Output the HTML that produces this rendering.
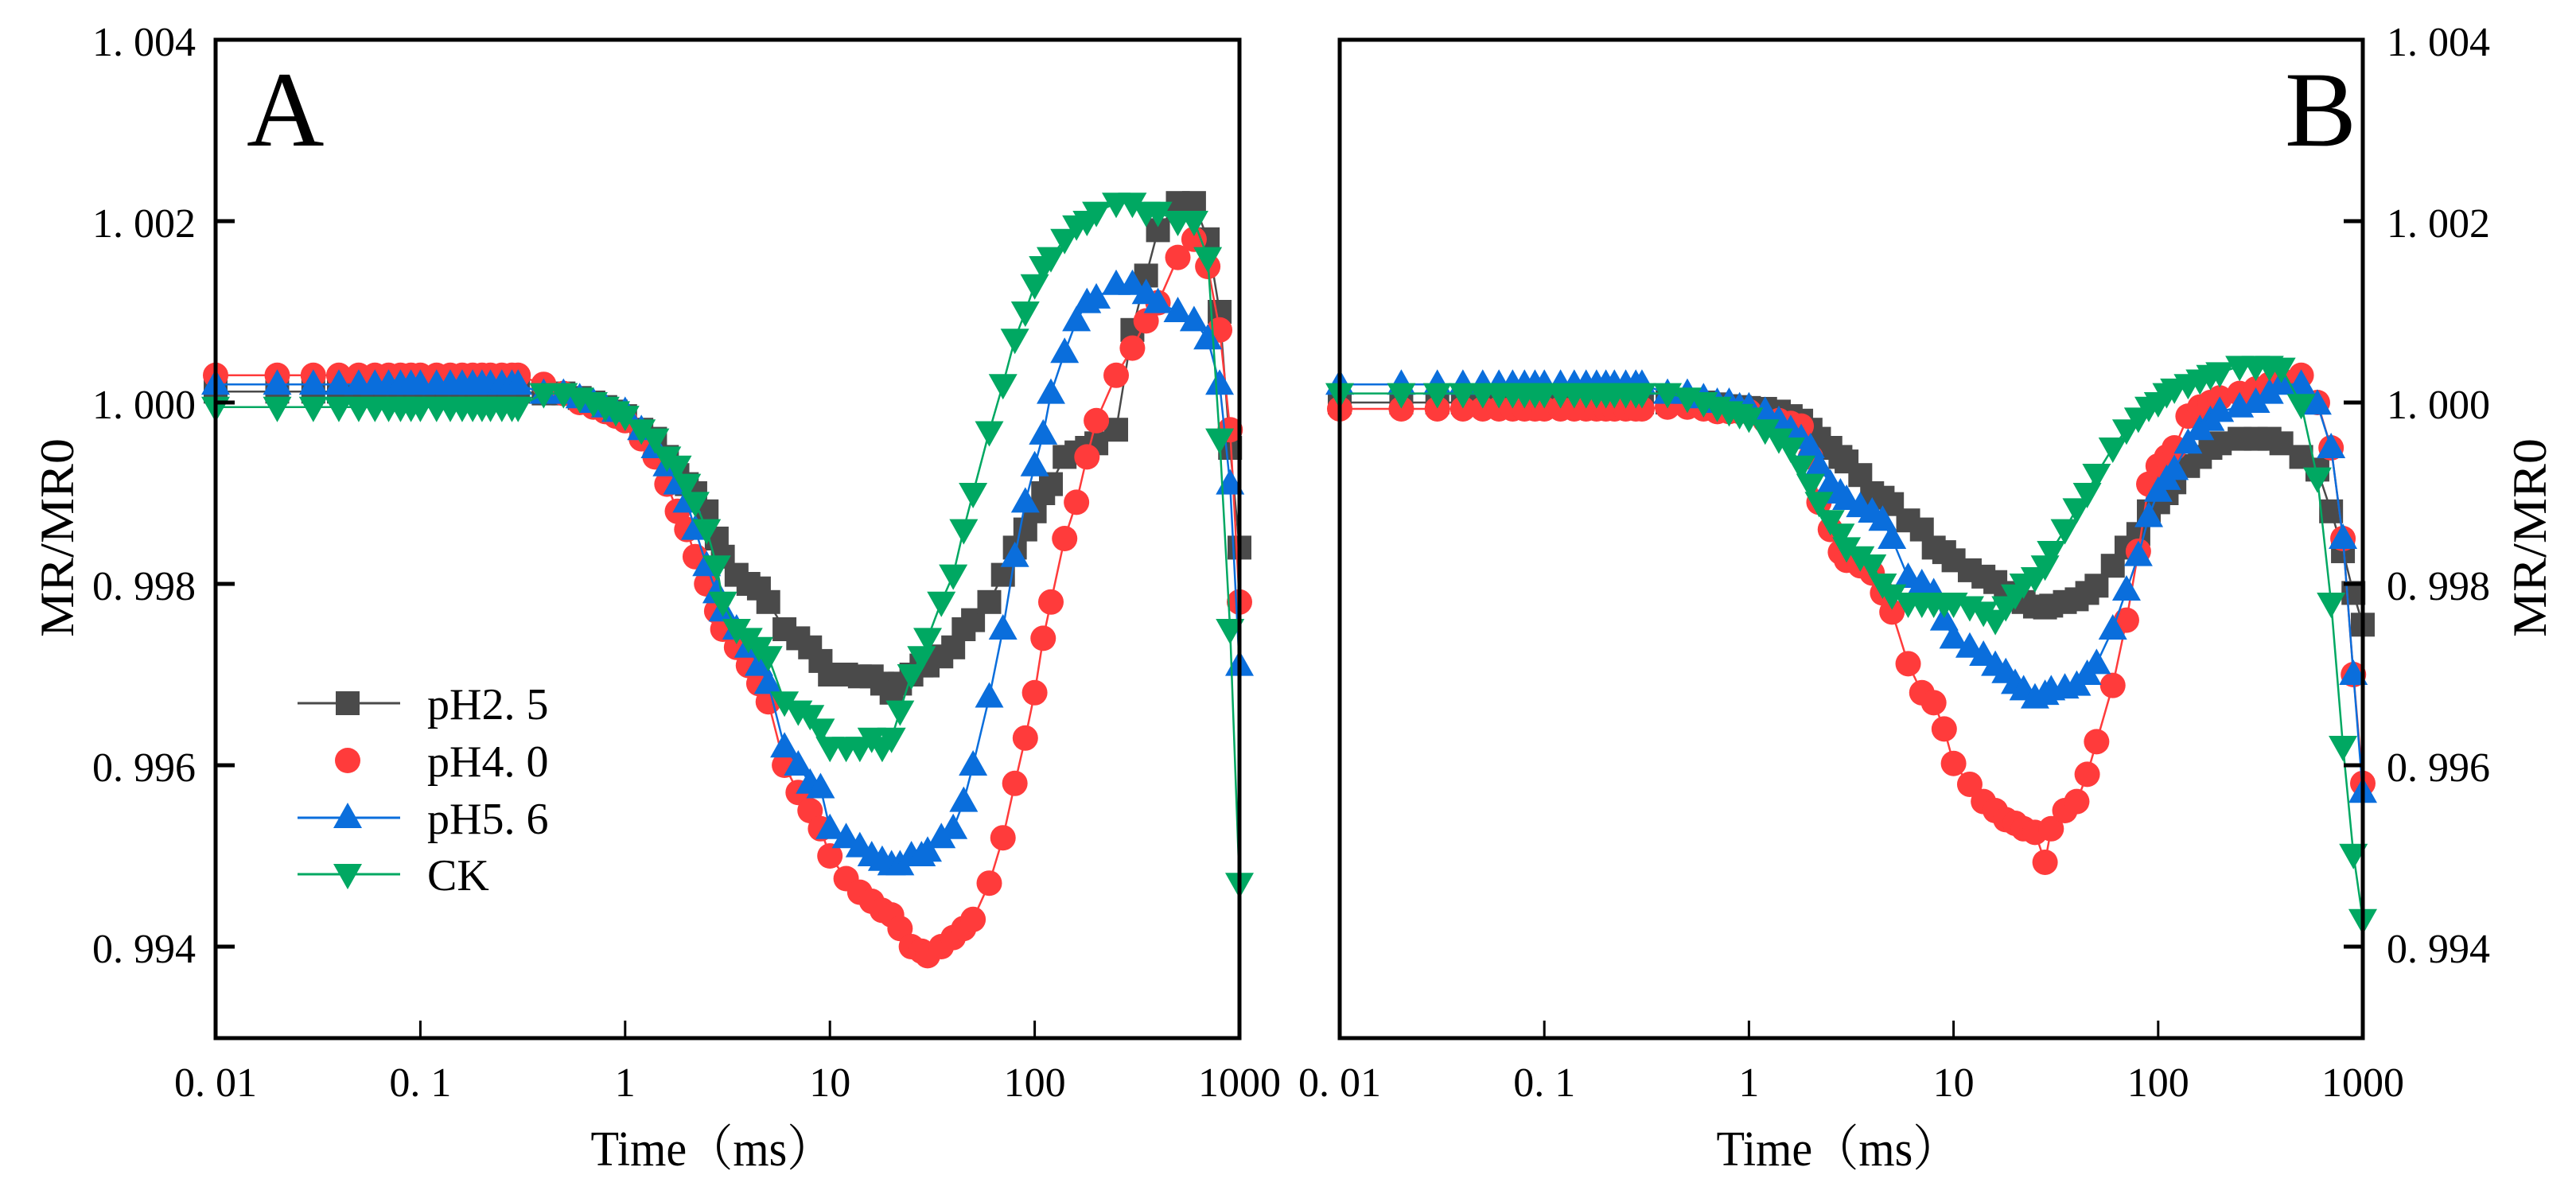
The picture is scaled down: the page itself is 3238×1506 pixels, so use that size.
<!DOCTYPE html>
<html><head><meta charset="utf-8"><style>
html,body{margin:0;padding:0;background:#fff;}
svg{display:block;}
text{font-family:"Liberation Serif","Noto Serif CJK SC",serif;fill:#000;}
</style></head>
<body>
<svg id="chart" width="3238" height="1506" viewBox="0 0 3238 1506" xmlns="http://www.w3.org/2000/svg">
<rect x="0" y="0" width="3238" height="1506" fill="#fff"/>
<g id="panelA"></g>
<g id="panelB"></g>
</svg>
<script>
const times = [0.01,0.02,0.03,0.04,0.05,0.06,0.07,0.08,0.09,0.1,0.12,0.14,0.16,0.18,0.2,0.22,0.25,0.28,0.3,0.4,0.5,0.6,0.7,0.8,0.9,1,1.2,1.4,1.6,1.8,2,2.2,2.5,2.8,3,3.5,4,4.5,5,6,7,8,9,10,12,14,16,18,20,22,25,28,30,35,40,45,50,60,70,80,90,100,110,120,140,160,180,200,250,300,350,400,500,600,700,800,900,1000];
const seriesNames = ["pH2. 5","pH4. 0","pH5. 6","CK"];
const xTickValues = [0.01,0.1,1,10,100,1000];
const xTickLabels = ["0. 01","0. 1","1","10","100","1000"];
const yTickValues = [1.004,1.002,1.000,0.998,0.996,0.994];
const yTickLabels = ["1. 004","1. 002","1. 000","0. 998","0. 996","0. 994"];

const A_pH25 = [1.00012,1.00012,1.00012,1.00012,1.00012,1.00012,1.00012,1.00012,1.00012,1.00012,1.00012,1.00012,1.00012,1.00012,1.00012,1.00012,1.00012,1.00012,1.00012,1.0001,1.0001,1.00005,1.0,0.99995,0.9999,0.99985,0.9997,0.9996,0.9994,0.9992,0.9991,0.999,0.9988,0.9985,0.9983,0.9981,0.998,0.99795,0.9978,0.9975,0.9974,0.9973,0.99715,0.997,0.997,0.99698,0.99698,0.9969,0.9968,0.9969,0.997,0.9971,0.9971,0.9972,0.9973,0.9975,0.9976,0.9978,0.9981,0.9984,0.9986,0.9988,0.999,0.9991,0.9994,0.99945,0.9995,0.99955,0.9997,1.0008,1.0014,1.0019,1.0022,1.0022,1.0018,1.001,0.9995,0.9984];
const A_pH40 = [1.0003,1.0003,1.0003,1.0003,1.0003,1.0003,1.0003,1.0003,1.0003,1.0003,1.0003,1.0003,1.0003,1.0003,1.0003,1.0003,1.0003,1.0003,1.0003,1.0002,1.0001,1.0,0.99995,0.9999,0.99985,0.9998,0.9996,0.9994,0.9991,0.9988,0.9986,0.9983,0.998,0.9977,0.9975,0.9973,0.9971,0.9969,0.9967,0.996,0.9957,0.9955,0.9953,0.995,0.99475,0.9946,0.9945,0.9944,0.99435,0.9942,0.994,0.99395,0.9939,0.994,0.9941,0.9942,0.9943,0.9947,0.9952,0.9958,0.9963,0.9968,0.9974,0.9978,0.9985,0.9989,0.9994,0.9998,1.0003,1.0006,1.0009,1.0011,1.0016,1.0018,1.0015,1.0008,0.9997,0.9978];
const A_pH56 = [1.0002,1.0002,1.0002,1.0002,1.0002,1.0002,1.0002,1.0002,1.0002,1.0002,1.0002,1.0002,1.0002,1.0002,1.0002,1.0002,1.0002,1.0002,1.0002,1.0001,1.0001,1.00005,1.0,0.99995,0.9999,0.9999,0.9997,0.9995,0.9993,0.9991,0.9989,0.9986,0.9982,0.9979,0.9977,0.9975,0.9973,0.9971,0.9969,0.9962,0.996,0.9958,0.99575,0.9953,0.9952,0.9951,0.995,0.99495,0.9949,0.9949,0.995,0.995,0.99505,0.9952,0.9953,0.9956,0.996,0.99675,0.9975,0.9983,0.9989,0.9993,0.99965,1.0001,1.00055,1.0009,1.0011,1.00115,1.0013,1.0013,1.0012,1.0011,1.001,1.0009,1.0007,1.0002,0.9991,0.9971];
const A_CK = [0.99995,0.99995,0.99995,0.99995,0.99995,0.99995,0.99995,0.99995,0.99995,0.99995,0.99995,0.99995,0.99995,0.99995,0.99995,0.99995,0.99995,0.99995,0.99995,1.0001,1.0001,1.00005,1.0,0.99995,0.9999,0.99985,0.9997,0.9996,0.9994,0.9993,0.9991,0.9989,0.9986,0.9982,0.9978,0.9975,0.9974,0.9973,0.9972,0.9967,0.9966,0.99655,0.9964,0.9962,0.9962,0.9962,0.9963,0.9962,0.9963,0.9966,0.997,0.9972,0.9974,0.9978,0.9981,0.9986,0.999,0.99968,1.0002,1.0007,1.001,1.0013,1.0015,1.0016,1.0018,1.00195,1.002,1.0021,1.0022,1.0022,1.0021,1.0021,1.002,1.002,1.0016,0.9996,0.9975,0.9947];

const B_pH25 = [1.0,1.0,1.0,1.0,1.0,1.0,1.0,1.0,1.0,1.0,1.0,1.0,1.0,1.0,1.0,1.0,1.0,1.0,1.0,1.0,1.0,1.0,0.99998,0.99996,0.99995,0.99994,0.99993,0.9999,0.99985,0.9998,0.9997,0.9996,0.9995,0.9994,0.99935,0.9992,0.999,0.99895,0.99888,0.9987,0.9986,0.9984,0.99835,0.99826,0.99815,0.99808,0.99802,0.9979,0.99785,0.9978,0.99775,0.99774,0.99776,0.9978,0.99783,0.9979,0.99798,0.9982,0.9984,0.99855,0.9988,0.9989,0.999,0.99912,0.9993,0.9994,0.9995,0.99955,0.9996,0.9996,0.9996,0.99955,0.9994,0.99926,0.9988,0.99836,0.9979,0.99755];
const B_pH40 = [0.99993,0.99993,0.99993,0.99993,0.99993,0.99993,0.99993,0.99993,0.99993,0.99993,0.99993,0.99993,0.99993,0.99993,0.99993,0.99993,0.99993,0.99993,0.99993,0.99995,0.99995,0.99993,0.9999,0.9999,0.9999,0.9999,0.9998,0.9998,0.99977,0.99974,0.9994,0.9989,0.9986,0.99835,0.99826,0.9982,0.99812,0.9979,0.99769,0.99712,0.9968,0.99669,0.9964,0.99602,0.99579,0.9956,0.9955,0.9954,0.99536,0.9953,0.99526,0.99493,0.9953,0.9955,0.9956,0.9959,0.99626,0.99688,0.9976,0.99836,0.9991,0.9993,0.9994,0.9995,0.99985,0.99995,1.0,1.00005,1.0001,1.00015,1.0002,1.00025,1.0003,1.0,0.9995,0.9985,0.997,0.9958];
const B_pH56 = [1.0002,1.0002,1.0002,1.0002,1.0002,1.0002,1.0002,1.0002,1.0002,1.0002,1.0002,1.0002,1.0002,1.0002,1.0002,1.0002,1.0002,1.0002,1.0002,1.0001,1.0001,1.00005,1.0,1.0,0.99995,0.99995,0.9999,0.9998,0.9997,0.9996,0.9995,0.9993,0.9991,0.999,0.99893,0.99885,0.99879,0.9987,0.9985,0.99807,0.998,0.9979,0.9976,0.9974,0.9973,0.99721,0.9971,0.99702,0.9969,0.99683,0.99674,0.99678,0.99683,0.99685,0.99688,0.997,0.99712,0.9975,0.99793,0.99831,0.99874,0.99902,0.99915,0.99926,0.99955,0.9997,0.9998,0.9999,0.99995,1.0,1.0001,1.0002,1.0002,0.99998,0.9995,0.9985,0.997,0.9957];
const B_CK = [1.0001,1.0001,1.0001,1.0001,1.0001,1.0001,1.0001,1.0001,1.0001,1.0001,1.0001,1.0001,1.0001,1.0001,1.0001,1.0001,1.0001,1.0001,1.0001,1.0001,1.00005,1.0,0.99995,0.9999,0.99987,0.99983,0.9997,0.9996,0.9995,0.9993,0.9991,0.9989,0.9987,0.99855,0.9984,0.9983,0.99821,0.998,0.99788,0.99779,0.99779,0.99779,0.99779,0.99779,0.99775,0.99769,0.9976,0.99775,0.99788,0.998,0.99807,0.9982,0.99836,0.9986,0.99883,0.999,0.99921,0.9995,0.9997,0.99983,0.99995,1.0,1.0001,1.00015,1.0002,1.00025,1.0003,1.00033,1.0004,1.0004,1.0004,1.00038,0.99998,0.99917,0.99779,0.99621,0.99502,0.9943];

const colors = ["#4a4a4a","#ff3b3b","#0a6edc","#00a862"];
const NS = "http://www.w3.org/2000/svg";
const yTop = 50, yPerUnit = 228/0.002;
function yScale(v){ return 506 - (v - 1.0) * yPerUnit; }
function mk(tag, attrs, parent){ const e=document.createElementNS(NS,tag); for(const k in attrs) e.setAttribute(k,attrs[k]); parent.appendChild(e); return e; }

function marker(kind, cx, cy, color, parent){
  let el;
  if(kind===0){ el = mk('rect',{x:cx-15,y:cy-15,width:30,height:30,fill:color},parent); }
  else if(kind===1){ el = mk('circle',{cx:cx,cy:cy,r:16,fill:color},parent); }
  else if(kind===2){ el = mk('polygon',{points:`${cx},${cy-19} ${cx-18},${cy+13} ${cx+18},${cy+13}`,fill:color},parent); }
  else { el = mk('polygon',{points:`${cx},${cy+19} ${cx-18},${cy-13} ${cx+18},${cy-13}`,fill:color},parent); }
  return el;
}

function drawPanel(g, left, right, seriesList, side, letter, letterX, titleX){
  const xScale = t => left + (Math.log10(t) + 2) / 5 * (right - left);
  const bottom = 1305;
  seriesList.forEach((vals, si) => {
    const sg = mk('g',{},g);
    
    
    const pts = vals.map((v,i)=>xScale(times[i]).toFixed(1)+','+yScale(v).toFixed(1)).join(' ');
    const pl = mk('polyline',{points:pts,fill:'none',stroke:colors[si],'stroke-width':2.5},sg);
    
    
    vals.forEach((v,i)=>{
      const m = marker(si, xScale(times[i]), yScale(v), colors[si], sg);
      
      
    });
  });
  const fr = mk('rect',{x:left,y:yTop,width:right-left,height:bottom-yTop,fill:'none',stroke:'#000','stroke-width':5},g);
  
  
  xTickValues.forEach((t,i)=>{
    const x = xScale(t);
    if(i>0 && i<xTickValues.length-1){
      const tk = mk('line',{x1:x,x2:x,y1:bottom,y2:bottom-22,stroke:'#000','stroke-width':3},g);
      
      
    }
    const tx = mk('text',{x:x,y:1378,'font-size':52,'text-anchor':'middle'},g);
    tx.textContent = xTickLabels[i];
    
    
  });
  yTickValues.forEach((v,i)=>{
    const y = yScale(v);
    const axX = side==='left' ? left : right;
    const dir = side==='left' ? 1 : -1;
    if(i>0){
      const tk = mk('line',{x1:axX,x2:axX+dir*24,y1:y,y2:y,stroke:'#000','stroke-width':5},g);
      
      
    }
    const tx = mk('text',{x: side==='left' ? 246 : 3000, y:y+20,'font-size':52,'text-anchor': side==='left'?'end':'start'},g);
    tx.textContent = yTickLabels[i];
    
    
  });
  const xt = mk('text',{x:titleX,y:1465,'font-size':62,'text-anchor':'middle',textLength:305,lengthAdjust:'spacingAndGlyphs'},g);
  xt.textContent = 'Time（ms）';
  
  
  const yx = side==='left' ? 92 : 3200;
  const yt = mk('text',{x:yx,y:676,'font-size':60,'text-anchor':'middle',transform:`rotate(-90 ${yx} 676)`,textLength:250,lengthAdjust:'spacingAndGlyphs'},g);
  yt.textContent = 'MR/MR0';
  
  
  const lt = mk('text',{x:letterX,y:183,'font-size':135},g);
  lt.textContent = letter;
  
  
}

drawPanel(document.getElementById('panelA'), 271, 1558, [A_pH25,A_pH40,A_pH56,A_CK], 'left', 'A', 310, 895);
drawPanel(document.getElementById('panelB'), 1684, 2970, [B_pH25,B_pH40,B_pH56,B_CK], 'right', 'B', 2872, 2310);

const lg = mk('g',{},document.getElementById('panelA'));


const legendY = [884,956,1028,1099];
seriesNames.forEach((n,i)=>{
  const eg = mk('g',{},lg);
  
  
  if(i!==1) mk('line',{x1:374,x2:503,y1:legendY[i],y2:legendY[i],stroke:colors[i],'stroke-width':3},eg);
  marker(i, 437, legendY[i], colors[i], eg);
  const t = mk('text',{x:537,y:legendY[i]+20,'font-size':56},eg);
  t.textContent = n;
});
</script>
</body></html>
